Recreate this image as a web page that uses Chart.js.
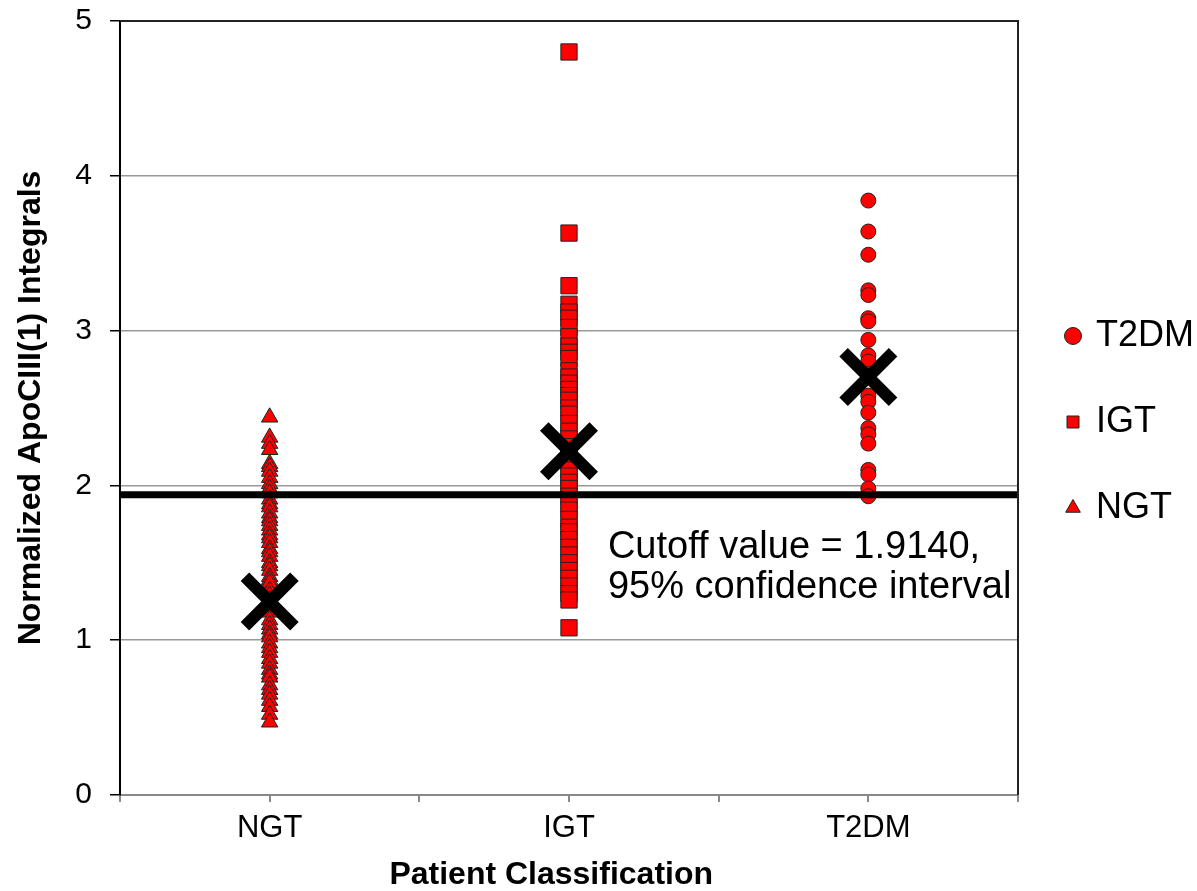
<!DOCTYPE html>
<html lang="en">
<head>
  <meta charset="UTF-8" />
  <title>ApoCIII(1) by Patient Classification</title>
  <script src="https://cdn.jsdelivr.net/npm/chart.js@4.4.0/dist/chart.umd.min.js"></script>
  <style>
    html, body { margin: 0; padding: 0; background: #fff; }
    #wrap { width: 1197px; height: 891px; position: relative; }
  </style>
</head>
<body>
  <div id="wrap"><canvas id="chart"></canvas></div>

  <script>
    // --- Data -------------------------------------------------------
    const categories = ['NGT', 'IGT', 'T2DM'];
    const categoryPos = [1, 2, 3];

    const ngtValues = [2.44, 2.31, 2.27, 2.23, 2.14, 2.12, 2.09, 2.05, 2.01, 1.98, 1.95, 1.91, 1.88,
      1.86, 1.82, 1.79, 1.77, 1.74, 1.71, 1.68, 1.66, 1.63, 1.59, 1.57, 1.54, 1.50, 1.48, 1.45,
      1.41, 1.39, 1.37, 1.32, 1.29, 1.26, 1.23, 1.21, 1.18, 1.13, 1.10, 1.07, 1.04, 1.02, 0.98,
      0.95, 0.92, 0.88, 0.85, 0.81, 0.78, 0.76, 0.71, 0.68, 0.65, 0.61, 0.57, 0.52, 0.47];
    const igtValues = [4.80, 3.63, 3.29, 3.17, 3.12, 3.08, 3.02, 2.96, 2.90, 2.86, 2.82, 2.74, 2.70,
      2.66, 2.62, 2.58, 2.55, 2.50, 2.46, 2.40, 2.35, 2.30, 2.25, 2.20, 2.15, 2.10, 2.06, 2.02,
      1.98, 1.93, 1.88, 1.84, 1.78, 1.73, 1.70, 1.65, 1.60, 1.55, 1.50, 1.45, 1.40, 1.35, 1.30,
      1.26, 1.08];
    const t2dmValues = [3.84, 3.64, 3.49, 3.26, 3.23, 3.08, 3.06, 2.94, 2.84, 2.80, 2.72, 2.58,
      2.54, 2.47, 2.37, 2.33, 2.27, 2.10, 2.07, 1.98, 1.93];

    const meanValues = [1.25, 2.22, 2.70];
    const cutoffValue = 1.94;
    const cutoffText = ['Cutoff value = 1.9140,', '95% confidence interval'];
    const yTicks = [0, 1, 2, 3, 4, 5];

    const toPoints = (vals, x) => vals.map(v => ({ x: x, y: v }));
    const FONT = '"Liberation Sans", Arial, sans-serif';

    // --- Plot frame (top + right border) and the cutoff note --------
    const framePlugin = {
      id: 'frame',
      afterDatasetsDraw(chart) {
        const { ctx, chartArea: a, scales } = chart;
        ctx.save();
        ctx.strokeStyle = '#222';
        ctx.lineWidth = 2;
        ctx.beginPath();
        ctx.moveTo(a.left, a.top);
        ctx.lineTo(a.right, a.top);
        ctx.lineTo(a.right, a.bottom);
        ctx.stroke();

        ctx.fillStyle = '#000';
        ctx.font = '38px ' + FONT;
        ctx.textBaseline = 'alphabetic';
        const x = scales.x.getPixelForValue(2.13);
        const y = scales.y.getPixelForValue(1.53);
        ctx.fillText(cutoffText[0], x, y);
        ctx.fillText(cutoffText[1], x, y + 40);
        ctx.restore();
      }
    };

    const pointBase = { backgroundColor: '#ff0000', borderColor: '#222', borderWidth: 1 };

    new Chart(document.getElementById('chart'), {
      type: 'scatter',
      data: {
        datasets: [
          {
            label: 'Mean',
            data: categoryPos.map((x, i) => ({ x: x, y: meanValues[i] })),
            pointStyle: 'crossRot',
            pointRadius: 35,
            borderWidth: 12,
            borderColor: '#000',
            backgroundColor: '#000',
            order: 0
          },
          {
            label: 'Cutoff',
            type: 'line',
            data: [{ x: 0.5, y: cutoffValue }, { x: 3.5, y: cutoffValue }],
            borderColor: '#000',
            borderWidth: 7,
            pointRadius: 0,
            order: 1
          },
          Object.assign({ label: 'T2DM', data: toPoints(t2dmValues, 3), pointStyle: 'circle', pointRadius: 7.5, order: 2 }, pointBase),
          Object.assign({ label: 'IGT', data: toPoints(igtValues, 2), pointStyle: 'rect', pointRadius: 11.5, order: 3 }, pointBase),
          Object.assign({ label: 'NGT', data: toPoints(ngtValues, 1), pointStyle: 'triangle', pointRadius: 9.5, order: 4 }, pointBase)
        ]
      },
      options: {
        responsive: true,
        maintainAspectRatio: false,
        animation: false,
        layout: { autoPadding: false, padding: { top: 21, right: 0, bottom: 0, left: 0 } },
        scales: {
          x: {
            type: 'linear',
            min: 0.5,
            max: 3.5,
            afterFit: s => { s.height = 96; s.paddingLeft = 0; s.paddingRight = 0; },
            afterBuildTicks: s => { s.ticks = [0.5, 1, 1.5, 2, 2.5, 3, 3.5].map(v => ({ value: v })); },
            ticks: {
              autoSkip: false,
              maxRotation: 0,
              padding: 8,
              color: '#000',
              font: { family: FONT, size: 31 },
              callback: v => {
                const i = categoryPos.indexOf(v);
                return i >= 0 ? categories[i] : '';
              }
            },
            grid: { drawOnChartArea: false, tickLength: 7, tickColor: '#888', lineWidth: 2 },
            border: { color: '#888', width: 2 },
            title: {
              display: true,
              text: 'Patient Classification    ',
              color: '#000',
              padding: { top: 14, bottom: 0 },
              font: { family: FONT, size: 32, weight: 'bold', lineHeight: 1 }
            }
          },
          y: {
            min: 0,
            max: 5,
            afterFit: s => { s.width = 120; s.paddingTop = 0; s.paddingBottom = 0; },
            afterBuildTicks: s => { s.ticks = yTicks.map(v => ({ value: v })); },
            ticks: {
              padding: 18,
              color: '#000',
              font: { family: FONT, size: 30 }
            },
            grid: {
              color: c => (c.tick && c.tick.value === 5) ? '#222' : '#999',
              lineWidth: 1.5,
              tickLength: 10,
              tickColor: '#000'
            },
            border: { color: '#000', width: 2 },
            title: {
              display: true,
              text: 'Normalized ApoCIII(1) Integrals',
              color: '#000',
              padding: { top: 12, bottom: 0 },
              font: { family: FONT, size: 32, weight: 'bold' }
            }
          }
        },
        plugins: {
          tooltip: { enabled: false },
          legend: {
            position: 'right',
            fullSize: false,
            maxWidth: 179,
            title: { display: true, text: ' ', padding: 0, font: { size: 20, lineHeight: 1.4 } },
            labels: {
              usePointStyle: true,
              boxHeight: 12,
              boxWidth: 10,
              padding: 50,
              color: '#000',
              font: { family: FONT, size: 36 },
              filter: item => item.datasetIndex >= 2
            }
          }
        }
      },
      plugins: [framePlugin]
    });
  </script>
</body>
</html>
